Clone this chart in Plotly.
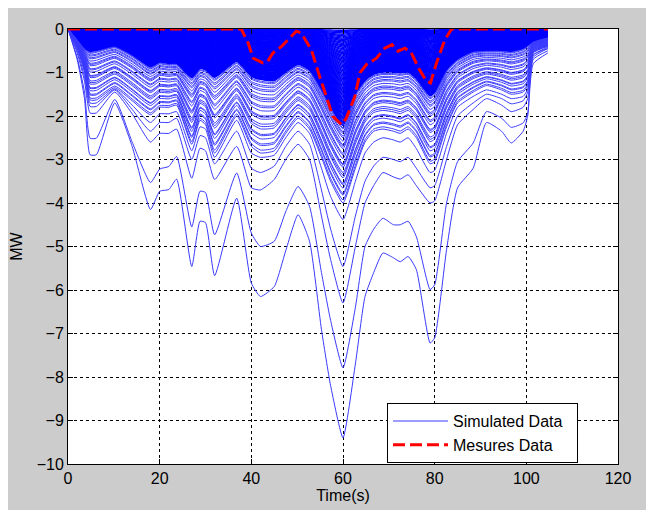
import plotly.graph_objects as go
import numpy as np

# ---------------- data ----------------
# common time knots (s) for the simulated curves
TIME = [0, 2, 3.6, 4.8, 6.2, 10.2, 14, 18, 20, 22, 23.7, 27, 28.8, 30, 32, 36.8, 40, 42,
        45, 47.5, 50.2, 52.7, 55.3, 57.3, 60, 62.7, 64.8, 66.7, 68.7, 71, 72.5, 74.2, 76,
        79, 80, 82.6, 85, 88.4, 91.3, 94.6, 96.7, 99.3, 100.3, 101.5, 104.7]

# the five clearly separated deepest simulated curves (MW)
SIM_DEEP_1 = [0, -0.7, -1.6, -2.89, -2.89, -1.7, -2.7, -4.15, -3.73, -3.69, -3.45, -5.46, -4.42, -4.45,
              -5.67, -3.89, -5.84, -6.15, -5.92, -5.1, -4.27, -4.88, -6.91, -8.2, -9.4, -7.7, -6.15,
              -5.6, -5.15, -5.26, -5.35, -5.23, -5.53, -7.22, -7.1, -5.07, -3.65, -3.2, -2.15, -2.35,
              -2.62, -2.35, -2.0, -0.8, -0.55]
SIM_DEEP_2 = [0, -0.65, -1.45, -2.51, -2.51, -1.62, -2.6, -3.53, -3.22, -3.16, -2.93, -4.55, -3.73, -3.76,
              -4.73, -3.31, -4.69, -5.0, -4.88, -4.2, -3.62, -4.08, -5.6, -6.7, -7.79, -6.4, -5.0,
              -4.6, -4.35, -4.5, -4.5, -4.42, -4.77, -5.99, -5.88, -4.0, -3.05, -2.62, -1.9, -2.05,
              -2.26, -2.16, -1.93, -0.6, -0.45]
SIM_DEEP_3 = [0, -0.55, -1.2, -1.93, -1.93, -1.45, -1.95, -2.6, -2.4, -2.4, -2.3, -3.43, -2.74, -2.8,
              -3.46, -2.7, -3.65, -3.7, -3.46, -3.0, -2.65, -3.0, -4.3, -5.3, -6.3, -5.0, -4.0,
              -3.6, -3.3, -3.4, -3.45, -3.35, -3.6, -4.0, -3.95, -3.0, -2.2, -1.85, -1.6, -1.75,
              -1.9, -1.8, -1.6, -0.7, -0.5]
SIM_DEEP_4 = [0, -0.5, -1.1, -1.78, -1.78, -1.4, -1.85, -2.35, -2.15, -2.15, -2.05, -3.0, -2.45, -2.5,
              -3.1, -2.35, -3.2, -3.3, -3.15, -2.7, -2.35, -2.65, -3.7, -4.6, -5.46, -4.3, -3.5,
              -3.15, -2.95, -3.0, -3.05, -2.95, -3.2, -3.65, -3.6, -2.7, -2.0, -1.7, -1.5, -1.6,
              -1.72, -1.65, -1.45, -0.65, -0.45]
SIM_DEEP_5 = [0, -0.45, -1.0, -1.7, -1.7, -1.38, -1.75, -2.15, -1.95, -1.95, -1.9, -2.8, -2.25, -2.3,
              -2.95, -2.1, -2.85, -2.95, -2.9, -2.5, -2.15, -2.4, -3.2, -3.85, -4.38, -3.5, -2.85,
              -2.6, -2.5, -2.55, -2.6, -2.5, -2.75, -3.3, -3.25, -2.4, -1.8, -1.55, -1.4, -1.5,
              -1.6, -1.55, -1.38, -0.6, -0.42]

# lower edge of the dense bundle of simulated curves
BUNDLE_LOW = [0, -0.42, -0.95, -1.63, -1.63, -1.35, -1.65, -1.97, -1.8, -1.8, -1.75, -2.65, -2.1, -2.2,
              -2.85, -2.0, -2.7, -2.85, -2.8, -2.4, -2.05, -2.3, -2.95, -3.5, -4.0, -3.2, -2.6,
              -2.35, -2.3, -2.35, -2.4, -2.3, -2.5, -3.1, -3.05, -2.25, -1.7, -1.45, -1.3, -1.4,
              -1.5, -1.45, -1.3, -0.55, -0.4]
# edge of the solid (fully overlapped) part of the bundle
BUNDLE_TOP = [0, -0.25, -0.45, -0.52, -0.5, -0.4, -0.6, -0.88, -0.77, -0.8, -0.8, -1.13, -0.92, -0.95,
              -1.12, -0.75, -1.1, -1.17, -1.2, -1.0, -0.82, -0.95, -1.4, -1.8, -2.24, -1.5, -1.2,
              -1.05, -1.0, -1.0, -1.02, -1.0, -1.15, -1.55, -1.47, -0.95, -0.7, -0.52, -0.5, -0.5,
              -0.52, -0.45, -0.38, -0.3, -0.2]

# value at t = 60 s of each separately visible curve of the bundle
BUNDLE_OPEN_AT_60 = [-4.0, -3.93, -3.82, -3.78, -3.66, -3.58, -3.55, -3.42, -3.36, -3.3, -3.18,
                     -3.13, -3.1, -2.98, -2.9, -2.86, -2.75, -2.7, -2.66, -2.58, -2.5, -2.46,
                     -2.4, -2.36, -2.3, -2.27]
# value at t = 60 s of each curve of the solid (overlapping) part
BUNDLE_SOLID_AT_60 = [-2.22, -2.19, -2.16, -2.13, -2.1, -2.07, -2.04, -2.01, -1.98, -1.95, -1.92,
                      -1.89, -1.86, -1.83, -1.8, -1.77, -1.74, -1.71, -1.68, -1.65, -1.62, -1.59,
                      -1.56, -1.53, -1.5, -1.47, -1.44, -1.41, -1.38, -1.35, -1.32, -1.29, -1.26,
                      -1.23, -1.2, -1.17, -1.14, -1.11, -1.08, -1.05, -1.02, -0.99, -0.96, -0.93,
                      -0.9, -0.87, -0.84, -0.81, -0.78, -0.75, -0.72, -0.69, -0.66, -0.63, -0.6,
                      -0.57, -0.54, -0.51, -0.48, -0.45, -0.42, -0.39, -0.36, -0.33, -0.3, -0.27,
                      -0.24, -0.21, -0.18, -0.15, -0.12, -0.09, -0.06, -0.03]

# measured curve
MEAS_TIME = [0, 37.8, 39.3, 40.4, 42.5, 43.6, 44.7, 46.6, 48, 49.8, 50.9, 53.1, 54.9, 56.3, 57.8,
             59.7, 60.7, 62.6, 63.7, 65.1, 67.3, 69.1, 70.7, 72, 73.5, 74.9, 76.7, 78.2, 79.1,
             80.4, 82.2, 83.7, 104.7]
MEAS_MW = [0, 0, -0.32, -0.67, -0.78, -0.74, -0.55, -0.40, -0.25, -0.05, -0.09, -0.48, -1.09,
           -1.55, -2.01, -2.2, -2.05, -1.55, -1.01, -0.82, -0.67, -0.44, -0.36, -0.51, -0.44,
           -0.55, -0.94, -1.2, -1.24, -0.78, -0.25, 0, 0]

X_TICKS = [0, 20, 40, 60, 80, 100, 120]
Y_TICKS = [-10, -9, -8, -7, -6, -5, -4, -3, -2, -1, 0]

# ---------------- build the simulated family ----------------
t = np.array(TIME, dtype=float)
top = np.array(BUNDLE_TOP)
low = np.array(BUNDLE_LOW)
i60 = TIME.index(60)


def bundle_curve(d):
    if d <= top[i60]:
        w = (d - top[i60]) / (low[i60] - top[i60])
        return top + w * (low - top)
    return top * d / top[i60]


def joined(curves):
    xs, ys = [], []
    for c in curves:
        xs += list(t) + [None]
        ys += list(c) + [None]
    return xs, ys


open_curves = [np.array(c) for c in (SIM_DEEP_1, SIM_DEEP_2, SIM_DEEP_3, SIM_DEEP_4, SIM_DEEP_5)]
open_curves += [bundle_curve(d) for d in BUNDLE_OPEN_AT_60]
solid_curves = [bundle_curve(d) for d in BUNDLE_SOLID_AT_60]

FONT = "Liberation Sans, Arial, sans-serif"

fig = go.Figure()
sx, sy = joined(solid_curves)
fig.add_trace(go.Scatter(x=sx, y=sy, mode="lines", name="Simulated Data", legendgroup="sim",
                         showlegend=False, line=dict(color="#0000ff", width=1.4, shape="spline",
                                                     smoothing=0.5)))
ox, oy = joined(open_curves)
fig.add_trace(go.Scatter(x=ox, y=oy, mode="lines", name="Simulated Data&nbsp;&nbsp;",
                         legendgroup="sim",
                         line=dict(color="#3a3aff", width=1, shape="spline", smoothing=0.5)))
fig.add_trace(go.Scatter(x=MEAS_TIME, y=MEAS_MW, mode="lines", name="Mesures Data",
                         line=dict(color="#ff0000", width=3, dash="12px,5px")))

axis_common = dict(showline=True, linecolor="black", linewidth=1, mirror="ticks",
                   ticks="inside", ticklen=5, tickcolor="black", zeroline=False,
                   showgrid=True, gridcolor="black", gridwidth=1, griddash="3px,3px",
                   automargin=False,
                   tickfont=dict(family=FONT, size=16, color="black"))

fig.update_layout(
    width=654, height=510,
    margin=dict(l=60, r=44, t=21, b=54),
    paper_bgcolor="#cccccc", plot_bgcolor="white",
    showlegend=True,
    legend=dict(x=0.58, y=0.14, xanchor="left", yanchor="top",
                bgcolor="white", bordercolor="black", borderwidth=1,
                itemwidth=55,
                font=dict(family=FONT, size=16, color="black"),
                traceorder="normal", tracegroupgap=0),
    xaxis=dict(range=[0, 120], tickvals=X_TICKS,
               title=dict(text="Time(s)", font=dict(family=FONT, size=16, color="black"), standoff=2),
               **axis_common),
    yaxis=dict(range=[-10, 0], tickvals=Y_TICKS,
               title=dict(text="MW", font=dict(family=FONT, size=16, color="black"), standoff=14),
               **axis_common),
)

fig.write_html("out.html")
